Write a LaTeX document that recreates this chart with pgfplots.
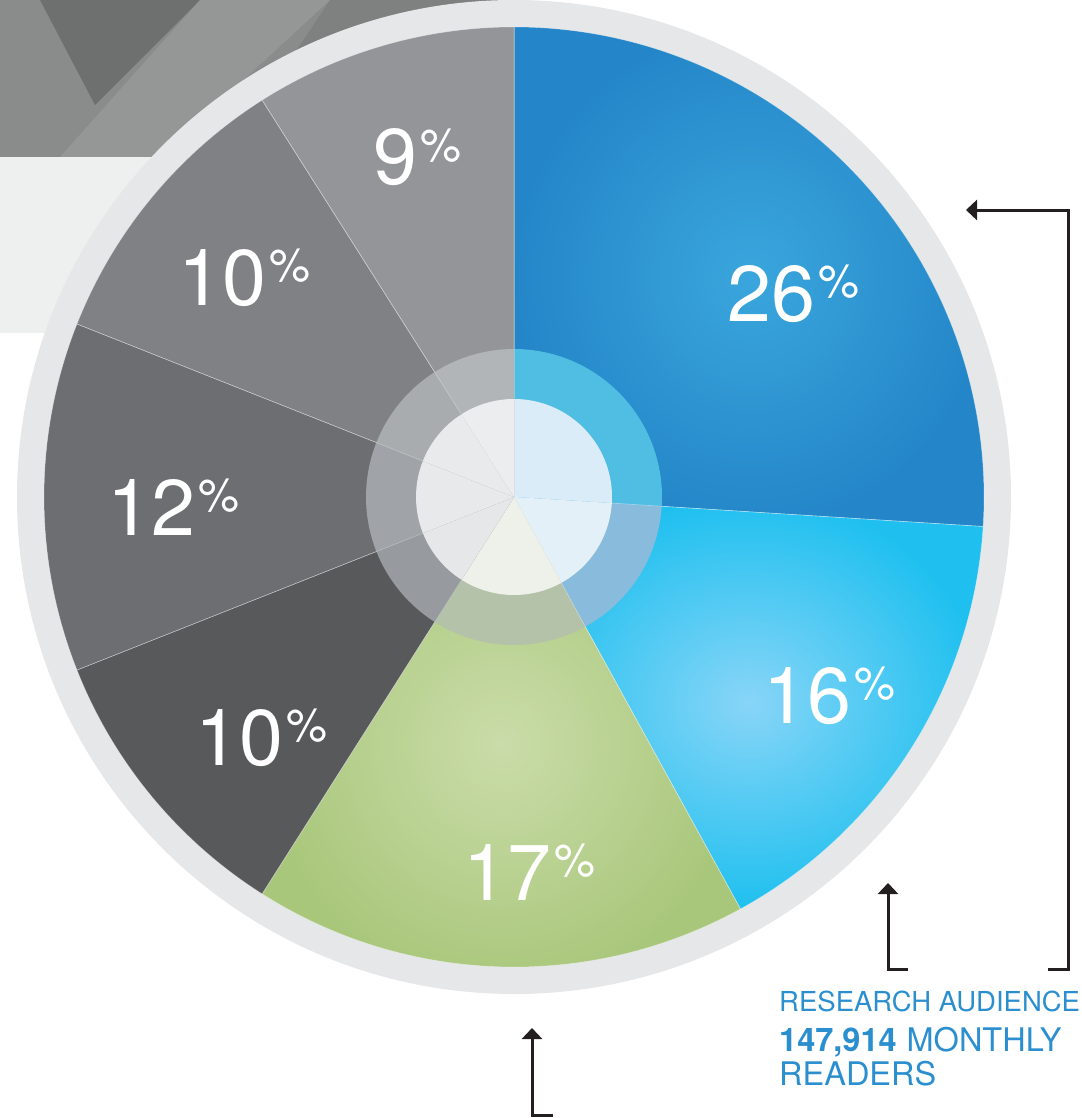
\documentclass[border=0pt]{standalone}
\usepackage{pgfplots}
\pgfplotsset{compat=1.18}
\usepackage{pgfplotstable}
\usetikzlibrary{arrows.meta}
\usepackage{fontspec}
\setmainfont{TeX Gyre Heros}

\definecolor{sl0}{HTML}{2486C8}\definecolor{pin0}{HTML}{3AA6DD}
\definecolor{sl1}{HTML}{1FC0EF}\definecolor{pin1}{HTML}{88D5F7}
\definecolor{sl2}{HTML}{A9C77B}\definecolor{pin2}{HTML}{CADCA9}
\definecolor{sl3}{HTML}{58595B}\definecolor{pin3}{HTML}{58595B}
\definecolor{sl4}{HTML}{6D6E71}\definecolor{pin4}{HTML}{6D6E71}
\definecolor{sl5}{HTML}{808184}\definecolor{pin5}{HTML}{808184}
\definecolor{sl6}{HTML}{939598}\definecolor{pin6}{HTML}{939598}
\definecolor{rg0}{HTML}{50BDE3}\definecolor{cr0}{HTML}{DAECF7}
\definecolor{rg1}{HTML}{88BBDC}\definecolor{cr1}{HTML}{E3F0F7}
\definecolor{rg2}{HTML}{B3C2A9}\definecolor{cr2}{HTML}{EEF1EA}
\definecolor{rg3}{HTML}{979A9E}\definecolor{cr3}{HTML}{E6E7E9}
\definecolor{rg4}{HTML}{A0A4A8}\definecolor{cr4}{HTML}{E8E9EB}
\definecolor{rg5}{HTML}{A8ACAF}\definecolor{cr5}{HTML}{E9EAEC}
\definecolor{rg6}{HTML}{B1B5B8}\definecolor{cr6}{HTML}{ECEDEF}
\definecolor{ringc}{HTML}{E6E7E8}
\definecolor{txtblue}{HTML}{2B8FCF}
\definecolor{arrowc}{HTML}{231F20}
\definecolor{lightbg}{HTML}{EEEFEF}
\definecolor{tbase}{HTML}{8A8B8B}
\definecolor{tdark}{HTML}{6E6F6F}
\definecolor{tlight}{HTML}{959696}
\definecolor{tmid}{HTML}{7F8080}

\newcommand\bignum[1]{\fontsize{79}{79}\selectfont #1}
\newcommand\bigpct{\fontsize{46}{46}\selectfont\%}

\pgfplotstableread{
value lx ly
26 727 321
16 763 723
17 463 900
10 195 765
12 107 535
10 178 305
9 373 185
}\piedata

\begin{document}
\begin{tikzpicture}
\begin{axis}[
  width=1081pt, height=1118pt, scale only axis,
  xmin=0, xmax=1081, ymin=0, ymax=1118, y dir=reverse,
  hide axis, clip=false]
% background texture (top-left)
\fill[lightbg] (axis cs:0,157) rectangle (axis cs:330,333);
\fill[tbase] (axis cs:0,0) rectangle (axis cs:520,157);
\fill[tdark] (axis cs:40,0) -- (axis cs:200,0) -- (axis cs:95,105) -- cycle;
\fill[tlight] (axis cs:60,157) -- (axis cs:200,0) -- (axis cs:330,0) -- (axis cs:160,157) -- cycle;
\fill[tmid] (axis cs:330,0) -- (axis cs:500,0) -- (axis cs:500,120) -- (axis cs:250,120) -- cycle;
% outer ring
\fill[ringc] (axis cs:514,497) circle[radius=497pt];
% slices
\def\cum{0}
\pgfplotsforeachungrouped \i in {0,...,6}{%
  \pgfplotstablegetelem{\i}{value}\of\piedata \let\sv\pgfplotsretval
  \pgfplotstablegetelem{\i}{lx}\of\piedata \let\slx\pgfplotsretval
  \pgfplotstablegetelem{\i}{ly}\of\piedata \let\sly\pgfplotsretval
  \pgfmathsetmacro\sa{90-3.6*\cum}
  \pgfmathsetmacro\sb{90-3.6*(\cum+\sv)}
  \edef\temp{%
    \noexpand\shade[inner color=pin\i, outer color=sl\i, draw=white, draw opacity=0.3, line width=0.6pt]
      (axis cs:514,497) -- ++(\sa:470pt) arc[start angle=\sa, end angle=\sb, radius=470pt] -- cycle;
    \noexpand\fill[rg\i] (axis cs:514,497) -- ++(\sa:148pt) arc[start angle=\sa, end angle=\sb, radius=148pt] -- cycle;
    \noexpand\fill[cr\i] (axis cs:514,497) -- ++(\sa:98pt) arc[start angle=\sa, end angle=\sb, radius=98pt] -- cycle;
    \noexpand\draw[white, opacity=0.25, line width=0.6pt] (axis cs:514,497) -- ++(\sa:470pt);
    \noexpand\node[anchor=base west, text=white, inner sep=0pt] (lab\i) at (axis cs:\slx,\sly) {\noexpand\bignum{\sv}};
    \noexpand\node[anchor=north west, text=white, inner sep=0pt, xshift=3pt] at (lab\i.north east) {\noexpand\bigpct};
  }\temp
  \pgfmathsetmacro\cum{\cum+\sv}
}
% annotation arrows
\draw[line width=3pt, arrowc, -{Triangle[width=20pt,length=11pt]}] (axis cs:1048,969) -- (axis cs:1068,969) -- (axis cs:1068,210) -- (axis cs:966,210);
\draw[line width=3pt, arrowc, -{Triangle[width=20pt,length=11pt]}] (axis cs:908,969) -- (axis cs:888,969) -- (axis cs:888,883);
\draw[line width=3pt, arrowc, -{Triangle[width=20pt,length=11pt]}] (axis cs:553,1115) -- (axis cs:532,1115) -- (axis cs:532,1028);
% text block
\node[anchor=base west, inner sep=0pt, text=txtblue] at (axis cs:779,1011) {\fontsize{27.5}{27.5}\selectfont RESEARCH AUDIENCE};
\node[anchor=base west, inner sep=0pt, text=txtblue] at (axis cs:779,1051) {\fontsize{32.5}{32.5}\selectfont \textbf{147,914}\hspace{10pt}MONTHLY};
\node[anchor=base west, inner sep=0pt, text=txtblue] at (axis cs:779,1085) {\fontsize{32.5}{32.5}\selectfont READERS};
\path (axis cs:0,0) (axis cs:1081,1118);
\end{axis}
\end{tikzpicture}
\end{document}
